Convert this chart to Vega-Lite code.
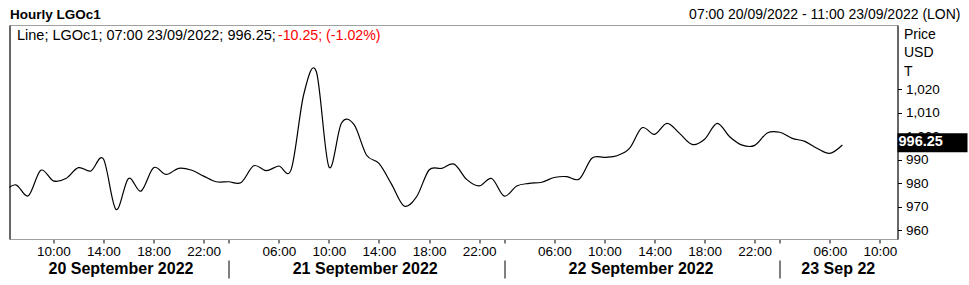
{
  "$schema": "https://vega.github.io/schema/vega-lite/v6.json",
  "width": 888,
  "height": 214,
  "autosize": {"type": "none"},
  "padding": {"left": 9.5, "top": 25, "right": 71.5, "bottom": 46},
  "background": "white",
  "config": {
    "font": "Liberation Sans",
    "view": {"stroke": "#a0a0a0", "strokeWidth": 1},
    "axis": {"grid": false, "labelColor": "black", "titleColor": "black", "labelFont": "Liberation Sans", "titleFont": "Liberation Sans"}
  },
  "data": {"values": [
    {"i": -1, "t": "20/09 06:00", "p": 976.0},
    {"i": 0, "t": "20/09 07:00", "p": 979.3},
    {"i": 1, "t": "20/09 08:00", "p": 974.6},
    {"i": 2, "t": "20/09 09:00", "p": 985.5},
    {"i": 3, "t": "20/09 10:00", "p": 981.0},
    {"i": 4, "t": "20/09 11:00", "p": 982.0},
    {"i": 5, "t": "20/09 12:00", "p": 986.6},
    {"i": 6, "t": "20/09 13:00", "p": 985.2},
    {"i": 7, "t": "20/09 14:00", "p": 990.3},
    {"i": 8, "t": "20/09 15:00", "p": 968.8},
    {"i": 9, "t": "20/09 16:00", "p": 982.0},
    {"i": 10, "t": "20/09 17:00", "p": 976.6},
    {"i": 11, "t": "20/09 18:00", "p": 986.6},
    {"i": 12, "t": "20/09 19:00", "p": 983.7},
    {"i": 13, "t": "20/09 20:00", "p": 986.3},
    {"i": 14, "t": "20/09 21:00", "p": 985.6},
    {"i": 15, "t": "20/09 22:00", "p": 983.0},
    {"i": 16, "t": "20/09 23:00", "p": 980.6},
    {"i": 17, "t": "21/09 02:00", "p": 980.6},
    {"i": 18, "t": "21/09 03:00", "p": 980.3},
    {"i": 19, "t": "21/09 04:00", "p": 987.4},
    {"i": 20, "t": "21/09 05:00", "p": 985.3},
    {"i": 21, "t": "21/09 06:00", "p": 987.3},
    {"i": 22, "t": "21/09 07:00", "p": 986.0},
    {"i": 23, "t": "21/09 08:00", "p": 1018.0},
    {"i": 24, "t": "21/09 09:00", "p": 1027.5},
    {"i": 25, "t": "21/09 10:00", "p": 987.0},
    {"i": 26, "t": "21/09 11:00", "p": 1005.5},
    {"i": 27, "t": "21/09 12:00", "p": 1005.0},
    {"i": 28, "t": "21/09 13:00", "p": 992.0},
    {"i": 29, "t": "21/09 14:00", "p": 988.4},
    {"i": 30, "t": "21/09 15:00", "p": 979.6},
    {"i": 31, "t": "21/09 16:00", "p": 970.3},
    {"i": 32, "t": "21/09 17:00", "p": 974.2},
    {"i": 33, "t": "21/09 18:00", "p": 985.6},
    {"i": 34, "t": "21/09 19:00", "p": 986.3},
    {"i": 35, "t": "21/09 20:00", "p": 988.1},
    {"i": 36, "t": "21/09 21:00", "p": 981.6},
    {"i": 37, "t": "21/09 22:00", "p": 978.8},
    {"i": 38, "t": "21/09 23:00", "p": 982.0},
    {"i": 39, "t": "22/09 02:00", "p": 974.5},
    {"i": 40, "t": "22/09 03:00", "p": 978.8},
    {"i": 41, "t": "22/09 04:00", "p": 979.9},
    {"i": 42, "t": "22/09 05:00", "p": 980.4},
    {"i": 43, "t": "22/09 06:00", "p": 982.4},
    {"i": 44, "t": "22/09 07:00", "p": 982.8},
    {"i": 45, "t": "22/09 08:00", "p": 981.8},
    {"i": 46, "t": "22/09 09:00", "p": 990.6},
    {"i": 47, "t": "22/09 10:00", "p": 991.0},
    {"i": 48, "t": "22/09 11:00", "p": 991.7},
    {"i": 49, "t": "22/09 12:00", "p": 994.8},
    {"i": 50, "t": "22/09 13:00", "p": 1003.6},
    {"i": 51, "t": "22/09 14:00", "p": 1000.8},
    {"i": 52, "t": "22/09 15:00", "p": 1005.5},
    {"i": 53, "t": "22/09 16:00", "p": 1001.2},
    {"i": 54, "t": "22/09 17:00", "p": 996.5},
    {"i": 55, "t": "22/09 18:00", "p": 998.7},
    {"i": 56, "t": "22/09 19:00", "p": 1005.5},
    {"i": 57, "t": "22/09 20:00", "p": 999.8},
    {"i": 58, "t": "22/09 21:00", "p": 996.2},
    {"i": 59, "t": "22/09 22:00", "p": 996.1},
    {"i": 60, "t": "22/09 23:00", "p": 1001.4},
    {"i": 61, "t": "23/09 02:00", "p": 1001.7},
    {"i": 62, "t": "23/09 03:00", "p": 999.1},
    {"i": 63, "t": "23/09 04:00", "p": 997.8},
    {"i": 64, "t": "23/09 05:00", "p": 994.8},
    {"i": 65, "t": "23/09 06:00", "p": 992.7},
    {"i": 66, "t": "23/09 07:00", "p": 996.25}
  ]},
  "resolve": {"axis": {"x": "independent", "y": "independent"}},
  "layer": [
    {
      "mark": {"type": "line", "interpolate": "cardinal", "color": "black", "strokeWidth": 1.2, "clip": true},
      "encoding": {
        "x": {"field": "i", "type": "quantitative",
          "scale": {"domain": [-0.5, 70.4], "nice": false, "zero": false},
          "axis": {"orient": "bottom", "values": [3, 7, 11, 15, 17, 21, 25, 29, 33, 37, 39, 43, 47, 51, 55, 59, 61, 65, 69],
            "labelExpr": "indexof([17,39,61], datum.value) >= 0 ? '' : timeFormat(datetime(2022,0,1,datum.value < 17 ? datum.value + 7 : datum.value < 39 ? datum.value - 15 : datum.value < 61 ? datum.value - 37 : datum.value - 59), '%H:%M')",
            "tickSize": 4, "tickColor": "black", "domainColor": "#a0a0a0", "labelFontSize": 13.5, "labelPadding": 1,
            "title": null, "labelFlush": false, "labelOverlap": false}},
        "y": {"field": "p", "type": "quantitative",
          "scale": {"domain": [956.2, 1047.4], "nice": false, "zero": false},
          "axis": {"orient": "right", "values": [960, 970, 980, 990, 1000, 1010, 1020], "format": ",.0f", "tickSize": 4,
            "tickColor": "black", "domainColor": "black", "labelFontSize": 13.5, "labelPadding": 4,
            "title": ["Price", "USD", "T"], "titleAngle": 0, "titleAlign": "left", "titleBaseline": "top",
            "titleX": 6, "titleY": 2, "titleFontSize": 14, "titleFontWeight": "normal", "titleLineHeight": 18.5}}
      }
    },
    {
      "mark": {"type": "line", "opacity": 0},
      "encoding": {
        "x": {"field": "i", "type": "quantitative",
          "axis": {"orient": "bottom", "values": [8.36, 27.86, 49.88, 65.63],
            "labelExpr": "datum.value < 10 ? '20 September 2022' : datum.value < 40 ? '21 September 2022' : datum.value < 60 ? '22 September 2022' : '23 Sep 22'",
            "ticks": false, "domain": false, "labelFontSize": 16, "labelFontWeight": "bold", "labelPadding": 21,
            "title": null, "labelOverlap": false, "labelFlush": false}},
        "y": {"field": "p", "type": "quantitative",
          "axis": {"orient": "left", "domainColor": "black", "labels": false, "ticks": false, "title": null}}
      }
    },
    {
      "mark": {"type": "line", "opacity": 0},
      "encoding": {
        "x": {"field": "i", "type": "quantitative",
          "axis": {"orient": "bottom", "values": [17, 39, 61], "labels": false, "domain": false, "tickSize": 18,
            "offset": 21, "tickColor": "black", "title": null}},
        "y": {"field": "p", "type": "quantitative", "axis": null}
      }
    },
    {
      "mark": {"type": "line", "opacity": 0},
      "encoding": {
        "x": {"field": "i", "type": "quantitative",
          "axis": {"orient": "top", "labels": false, "ticks": false, "domain": false,
            "title": "07:00 20/09/2022 - 11:00 23/09/2022 (LON)", "titleX": 950.5, "titleY": -7,
            "titleAlign": "right", "titleBaseline": "alphabetic", "titleFontSize": 14, "titleFontWeight": "normal"}},
        "y": {"field": "p", "type": "quantitative", "axis": null}
      }
    },
    {
      "mark": {"type": "line", "opacity": 0},
      "encoding": {
        "x": {"field": "i", "type": "quantitative",
          "axis": {"orient": "top", "labels": false, "ticks": false, "domain": false,
            "title": "Hourly LGOc1", "titleX": 0, "titleY": -7,
            "titleAlign": "left", "titleBaseline": "alphabetic", "titleFontSize": 13.5, "titleFontWeight": "bold"}},
        "y": {"field": "p", "type": "quantitative", "axis": null}
      }
    },
    {
      "data": {"values": [{"txt": "Line; LGOc1; 07:00 23/09/2022; 996.25;"}]},
      "mark": {"type": "text", "align": "left", "baseline": "alphabetic", "dx": 7.5, "dy": 15, "fontSize": 14.5, "color": "black"},
      "encoding": {
        "x": {"datum": -0.5, "type": "quantitative", "axis": null},
        "y": {"datum": 1047.4, "type": "quantitative", "axis": null},
        "text": {"field": "txt"}
      }
    },
    {
      "data": {"values": [{"txt": "-10.25; (-1.02%)"}]},
      "mark": {"type": "text", "align": "left", "baseline": "alphabetic", "dx": 268.5, "dy": 15, "fontSize": 14.2, "color": "#ff0000"},
      "encoding": {
        "x": {"datum": -0.5, "type": "quantitative", "axis": null},
        "y": {"datum": 1047.4, "type": "quantitative", "axis": null},
        "text": {"field": "txt"}
      }
    },
    {
      "data": {"values": [{"p": 996.25, "label": "996.25"}]},
      "mark": {"type": "rect", "color": "black", "x2Offset": 70, "yOffset": -11.7, "y2Offset": 7.3, "clip": false},
      "encoding": {
        "x": {"value": "width"},
        "x2": {"value": "width"},
        "y": {"field": "p", "type": "quantitative", "axis": null},
        "y2": {"field": "p"}
      }
    },
    {
      "data": {"values": [{"p": 996.25, "label": "996.25"}]},
      "mark": {"type": "text", "align": "left", "baseline": "middle", "dx": 1, "dy": -3, "fontSize": 14.5, "fontWeight": "bold", "color": "white"},
      "encoding": {
        "x": {"value": "width"},
        "y": {"field": "p", "type": "quantitative", "axis": null},
        "text": {"field": "label"}
      }
    }
  ]
}
